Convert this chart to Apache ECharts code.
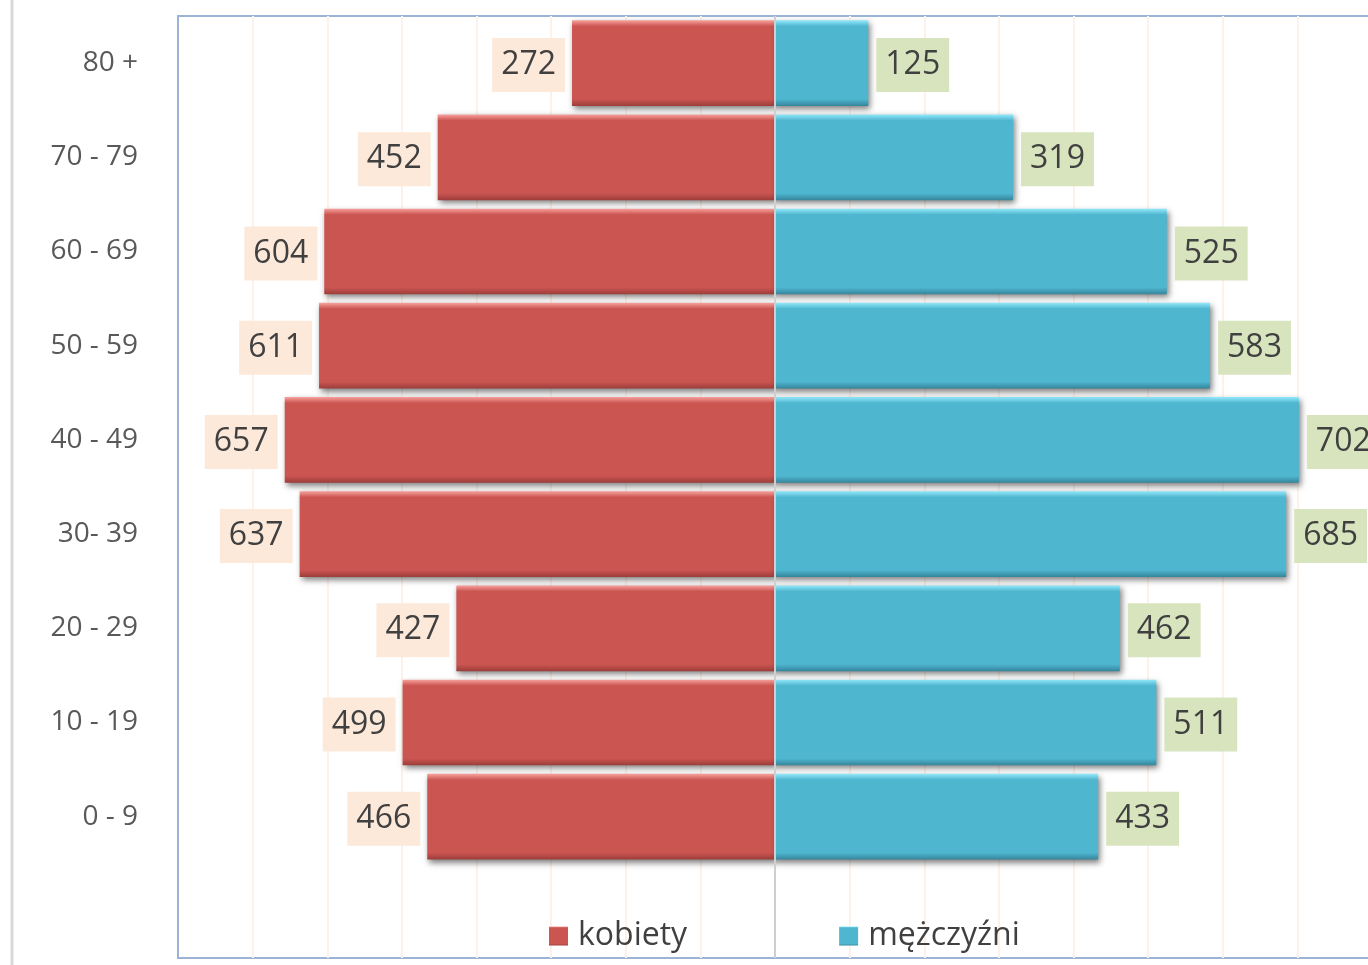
<!DOCTYPE html>
<html>
<head>
<meta charset="utf-8">
<title>Piramida wieku</title>
<script src="https://cdn.jsdelivr.net/npm/echarts@6/dist/echarts.min.js"></script>
<style>
  html, body { margin: 0; padding: 0; background: #ffffff; }
  #chart { width: 1368px; height: 965px; }
</style>
</head>
<body>
<div id="chart"></div>
<script>
// grupy wieku, od dołu do góry
const ageGroups = ['0 - 9', '10 - 19', '20 - 29', '30- 39', '40 - 49', '50 - 59', '60 - 69', '70 - 79', '80 +']
const women = [466, 499, 427, 637, 657, 611, 604, 452, 272]
const men = [433, 511, 462, 685, 702, 583, 525, 319, 125]

// pusta kategoria na dole - tam siedzi legenda
const categories = [''].concat(ageGroups)
const womenData = [null].concat(women.map(v => -v))
const menData = [null].concat(men)

const font = '"Open Sans", "Noto Sans", sans-serif'

function barGradient(light, main, dark) {
  return new echarts.graphic.LinearGradient(0, 0, 0, 1, [
    { offset: 0, color: light },
    { offset: 0.07, color: main },
    { offset: 0.92, color: main },
    { offset: 1, color: dark }
  ])
}

const chart = echarts.init(document.getElementById('chart'))

const option = {
  backgroundColor: '#ffffff',
  animation: false,
  textStyle: { fontFamily: font },
  graphic: [{
    type: 'line',
    shape: { x1: 12, y1: 0, x2: 12, y2: 965 },
    style: { stroke: '#d9d9d9', lineWidth: 3 }
  }],
  legend: {
    data: ['kobiety', 'mężczyźni'],
    left: 544,
    top: 915,
    itemWidth: 19,
    itemHeight: 19,
    itemGap: 152,
    icon: 'rect',
    textStyle: { fontSize: 32, color: '#404040', fontFamily: font, padding: [0, 0, 0, 5] }
  },
  grid: {
    left: 178,
    top: 16,
    width: 1194,
    height: 942,
    show: true,
    borderColor: '#9bb3d6',
    borderWidth: 2,
    containLabel: false,
    outerBoundsMode: 'none'
  },
  xAxis: {
    type: 'value',
    min: -800,
    max: 800,
    interval: 100,
    axisLabel: { show: false },
    axisLine: { show: false },
    axisTick: { show: false },
    splitLine: {
      showMinLine: false,
      showMaxLine: false,
      lineStyle: { color: '#fdf1ea', width: 2 }
    }
  },
  yAxis: {
    type: 'category',
    data: categories,
    axisLine: { show: false, onZero: false },
    axisTick: { show: false },
    axisLabel: {
      margin: 40,
      fontSize: 28,
      color: '#595959',
      fontFamily: font
    }
  },
  series: [
    {
      name: 'kobiety',
      type: 'bar',
      data: womenData,
      barCategoryGap: '9%',
      barGap: '-100%',
      itemStyle: {
        color: barGradient('#f8a29e', '#cb5551', '#9c3d3a'),
        shadowBlur: 6,
        shadowColor: 'rgba(0, 0, 0, 0.5)',
        shadowOffsetX: 2,
        shadowOffsetY: 3
      },
      label: {
        show: true,
        position: 'left',
        distance: 7,
        offset: [0, 2],
        formatter: p => Math.abs(p.value),
        fontSize: 32,
        lineHeight: 36,
        color: '#404040',
        fontFamily: font,
        backgroundColor: '#fde9da',
        padding: [9, 9, 9, 9]
      }
    },
    {
      name: 'mężczyźni',
      type: 'bar',
      data: menData,
      barCategoryGap: '9%',
      barGap: '-100%',
      itemStyle: {
        color: barGradient('#93e9fa', '#4fb6d0', '#35859b'),
        shadowBlur: 6,
        shadowColor: 'rgba(0, 0, 0, 0.5)',
        shadowOffsetX: 2,
        shadowOffsetY: 3
      },
      label: {
        show: true,
        position: 'right',
        distance: 8,
        offset: [0, 2],
        fontSize: 32,
        lineHeight: 36,
        color: '#404040',
        fontFamily: font,
        backgroundColor: '#d8e4bd',
        padding: [9, 9, 9, 9]
      },
      // linia środkowa (oś zero)
      markLine: {
        silent: true,
        symbol: 'none',
        label: { show: false },
        lineStyle: { color: '#cfcfcf', width: 2, type: 'solid' },
        data: [{ xAxis: 0 }]
      }
    }
  ]
}

chart.setOption(option)
</script>
</body>
</html>
